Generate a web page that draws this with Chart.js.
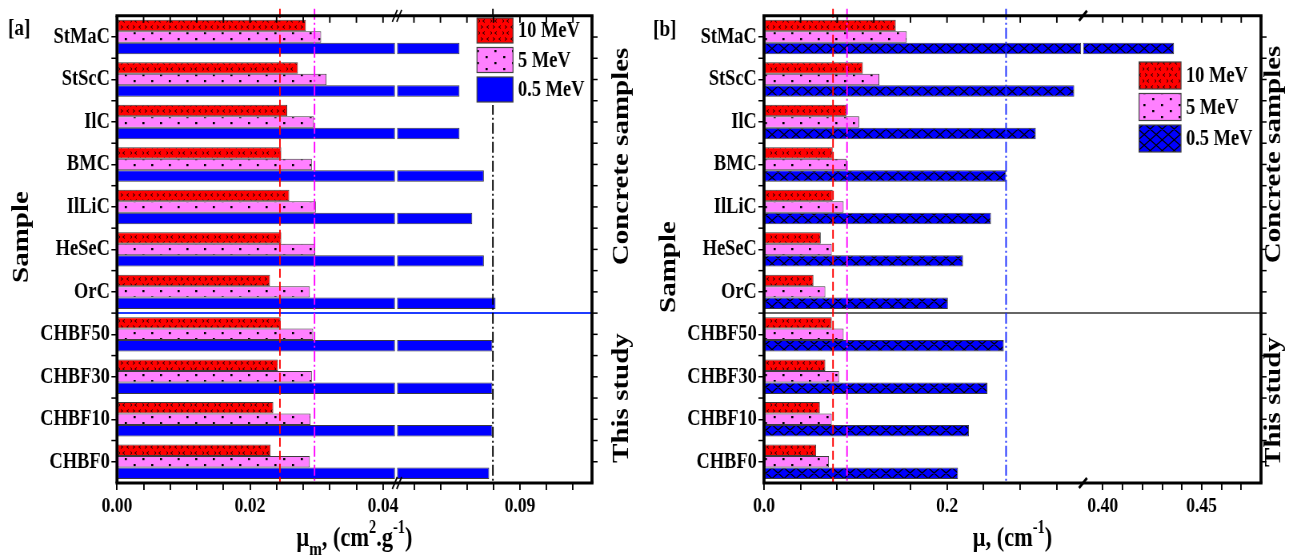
<!DOCTYPE html>
<html><head><meta charset="utf-8">
<script src="https://cdn.jsdelivr.net/npm/chart.js@4.4.1/dist/chart.umd.min.js"></script>
<style>
html,body{margin:0;padding:0;background:#fff;}
#wrap{position:relative;width:1301px;height:557px;overflow:hidden;background:#fff;}
canvas{position:absolute;top:0;}
</style></head><body>
<div id="wrap">
<canvas id="ca" width="800" height="557" style="left:0px;width:640px;height:557px"></canvas>
<canvas id="cb" width="826" height="557" style="left:640px;width:661px;height:557px"></canvas>
</div>
<script>
// ---------------- data ----------------
const categories = ['StMaC','StScC','IlC','BMC','IlLiC','HeSeC','OrC','CHBF50','CHBF30','CHBF10','CHBF0'];
const groupNames = ['Concrete samples','This study'];
const groupSizes = [7, 4];
const seriesNames = ['10 MeV','5 MeV','0.5 MeV'];

// [a] mass attenuation coefficient (cm2/g)
const massAtt10MeV = [0.0284,0.0272,0.0256,0.0247,0.0259,0.0247,0.0230,0.0246,0.0242,0.0235,0.0231];
const massAtt5MeV  = [0.0307,0.0315,0.0296,0.0293,0.0299,0.0298,0.0290,0.0295,0.0293,0.0291,0.0290];
const massAtt05MeV = [0.0843,0.0843,0.0843,0.0866,0.0855,0.0866,0.0877,0.0874,0.0874,0.0874,0.0871];
const massAttGuides = [0.0245,0.0297,0.08745];

// [b] linear attenuation coefficient (cm-1)
const linAtt10MeV = [0.144,0.108,0.090,0.075,0.075,0.062,0.054,0.074,0.067,0.061,0.057];
const linAtt5MeV  = [0.156,0.126,0.104,0.090,0.087,0.074,0.067,0.087,0.082,0.074,0.071];
const linAtt05MeV = [0.436,0.339,0.297,0.2645,0.248,0.2175,0.201,0.262,0.244,0.224,0.212];
const linAttGuides = [0.0754,0.0907,0.2645];

// tick values / labels (two axis segments each, broken axis)
const ticksA1 = [0,0.004,0.008,0.012,0.016,0.02,0.024,0.028,0.032,0.036,0.04];
const labelsA1 = ['0.00','','','','','0.02','','','','','0.04'];
const ticksA2 = [0.08,0.0825,0.085,0.0875,0.09,0.0925,0.095];
const labelsA2 = ['','','','','0.09','',''];
const ticksB1 = [0,0.04,0.08,0.12,0.16,0.2,0.24,0.28,0.32];
const labelsB1 = ['0.0','','','','','0.2','','',''];
const ticksB2 = [0.40,0.41,0.42,0.43,0.44,0.45,0.46,0.47];
const labelsB2 = ['0.40','','','','','0.45','',''];

// ---------------- helpers ----------------
const FONT = '"Liberation Serif","Times New Roman",serif';

function makePattern(kind) {
  const c = document.createElement('canvas');
  let w = 15, h = 12;
  if (kind === 'pink') { w = 22; h = 12; }
  if (kind === 'hatch') { w = 15; h = 43; }
  c.width = w; c.height = h;
  const g = c.getContext('2d');
  if (kind === 'red') {
    g.fillStyle = '#ff0000'; g.fillRect(0,0,w,h);
    g.strokeStyle = '#300000'; g.lineWidth = 1;
    g.beginPath();
    g.moveTo(1,1.5); g.lineTo(3.5,3); g.lineTo(1,4.5);
    g.moveTo(11,1.5); g.lineTo(8.5,3); g.lineTo(11,4.5);
    g.moveTo(6,7.5); g.lineTo(3.5,9); g.lineTo(6,10.5);
    g.moveTo(13,7.5); g.lineTo(15,9); g.lineTo(13,10.5);
    g.stroke();
  } else if (kind === 'pink') {
    g.fillStyle = '#ff80ff'; g.fillRect(0,0,w,h);
    g.fillStyle = '#000';
    g.fillRect(2,2,2.6,2.2); g.fillRect(13,8,2.6,2.2);
  } else if (kind === 'hatch') {
    g.fillStyle = '#0000ff'; g.fillRect(0,0,w,h);
    g.strokeStyle = '#000'; g.lineWidth = 1.3;
    const p = h / 4, off = 5.475;
    g.beginPath();
    for (let k = -2; k <= 5; k++) {
      const y0 = off + k * p;
      g.moveTo(-w, y0 - p); g.lineTo(2 * w, y0 + 2 * p);
      g.moveTo(-w, y0 + 2 * p); g.lineTo(2 * w, y0 - p);
    }
    g.stroke();
  }
  return g.createPattern(c, 'repeat');
}

function line(ctx, a, b, c, d) { ctx.beginPath(); ctx.moveTo(a,b); ctx.lineTo(c,d); ctx.stroke(); }

function drawRich(ctx, parts, cx, baseY) {
  let total = 0;
  parts.forEach(p => { ctx.font = `bold ${p.size}px ${FONT}`; p.w = ctx.measureText(p.t).width; total += p.w; });
  let x = cx - total / 2;
  ctx.textAlign = 'left'; ctx.textBaseline = 'alphabetic';
  parts.forEach(p => { ctx.font = `bold ${p.size}px ${FONT}`; ctx.fillText(p.t, x, baseY + p.dy); x += p.w; });
}

function decoPlugin(P) {
  const K = P.intW / P.cssW;
  return {
    id: 'deco',
    afterDatasetsDraw(chart) {
      const ctx = chart.ctx, ca = chart.chartArea, y = chart.scales.y, x1 = chart.scales.x1, x2 = chart.scales.x2;
      ctx.save();
      let idx = 0;
      for (let g = 0; g < groupSizes.length - 1; g++) {
        idx += groupSizes[g];
        const sy = (y.getPixelForValue(idx - 1) + y.getPixelForValue(idx)) / 2;
        ctx.strokeStyle = P.sepColor; ctx.lineWidth = P.sepWidth;
        line(ctx, ca.left, sy, ca.right, sy);
      }
      P.guides.forEach((v, i) => {
        const sc = v <= x1.max ? x1 : x2;
        const px = sc.getPixelForValue(v);
        ctx.strokeStyle = P.guideColors[i]; ctx.lineWidth = 1.5 * K;
        ctx.setLineDash(P.guideDash[i]);
        line(ctx, px, ca.top - 7, px, ca.bottom);
      });
      ctx.restore();
    },
    afterDraw(chart) {
      const ctx = chart.ctx, ca = chart.chartArea, y = chart.scales.y, x1 = chart.scales.x1, x2 = chart.scales.x2;
      ctx.save();
      ctx.fillStyle = '#000'; ctx.strokeStyle = '#000';
      // legend (inside plot, top right)
      const L = P.legend;
      const items = chart.data.datasets.filter(d => !d.hideInLegend);
      ctx.font = `bold 23px ${FONT}`;
      let maxW = 0; items.forEach(d => { maxW = Math.max(maxW, ctx.measureText(d.label).width); });
      ctx.fillStyle = '#fff';
      ctx.fillRect(L.x * K - 3, L.y - 3, (L.tx - L.x) * K + maxW + 6, L.gap * (items.length - 1) + L.h + 6);
      items.forEach((d, i) => {
        const by = L.y + i * L.gap;
        ctx.fillStyle = d.backgroundColor;
        ctx.fillRect(L.x * K, by, L.w * K, L.h);
        ctx.strokeStyle = '#444'; ctx.lineWidth = 1.2;
        ctx.strokeRect(L.x * K, by, L.w * K, L.h);
        ctx.fillStyle = '#000'; ctx.textAlign = 'left'; ctx.textBaseline = 'middle';
        ctx.fillText(d.label, L.tx * K, by + L.h / 2 + 1);
      });
      // frame
      ctx.strokeStyle = '#000';
      ctx.lineWidth = 3;
      line(ctx, ca.left - 1.5 * K, ca.top, ca.right + 1.5 * K, ca.top);
      line(ctx, ca.left - 1.5 * K, ca.bottom, ca.right + 1.5 * K, ca.bottom);
      ctx.lineWidth = 3 * K;
      line(ctx, ca.left, ca.top, ca.left, ca.bottom);
      line(ctx, ca.right, ca.top, ca.right, ca.bottom);
      // top (inward) ticks
      ctx.lineWidth = 1.5 * K;
      [x1, x2].forEach(s => s.ticks.forEach(t => { const px = s.getPixelForValue(t.value); line(ctx, px, ca.top, px, ca.top + 7); }));
      // right ticks (centres & boundaries), left boundary ticks
      ctx.lineWidth = 1.5;
      const n = categories.length;
      for (let i = 0; i < n; i++) {
        const yc = y.getPixelForValue(i);
        line(ctx, ca.right, yc, ca.right + 7, yc);
        if (i < n - 1) {
          const yb = (yc + y.getPixelForValue(i + 1)) / 2;
          line(ctx, ca.right, yb, ca.right + 7, yb);
          line(ctx, ca.left - 7, yb, ca.left, yb);
        }
      }
      // axis break marks
      const bx = x1.right;
      [ca.top, ca.bottom].forEach(yy => {
        if (P.breakStyle === 'double') {
          ctx.lineWidth = 1.4 * K;
          [-2.2, 2.2].forEach(dx => line(ctx, bx + (dx - 2.5) * K, yy + 6, bx + (dx + 2.5) * K, yy - 6));
        } else {
          ctx.lineWidth = 3;
          line(ctx, bx - 4 * K, yy + 5, bx + 4 * K, yy - 5);
        }
      });
      // texts
      ctx.fillStyle = '#000';
      ctx.font = `bold 24px ${FONT}`; ctx.textAlign = 'left'; ctx.textBaseline = 'alphabetic';
      ctx.fillText(P.tag, P.tagX * K, P.tagY);
      ctx.font = `bold 29px ${FONT}`; ctx.textAlign = 'center'; ctx.textBaseline = 'middle';
      ctx.save(); ctx.translate(P.sampleX * K, P.sampleY); ctx.rotate(-Math.PI / 2); ctx.fillText('Sample', 0, 0); ctx.restore();
      let start = 0;
      groupSizes.forEach((gs, g) => {
        const yt = start === 0 ? ca.top : (y.getPixelForValue(start - 1) + y.getPixelForValue(start)) / 2;
        const end = start + gs;
        const yb = end >= n ? ca.bottom : (y.getPixelForValue(end - 1) + y.getPixelForValue(end)) / 2;
        ctx.save(); ctx.translate(P.sideX * K, (yt + yb) / 2 + P.sideDy[g]); ctx.rotate(-Math.PI / 2);
        ctx.fillText(groupNames[g], 0, 0); ctx.restore();
        start = end;
      });
      ctx.fillStyle = '#000';
      drawRich(ctx, P.xTitle, (ca.left + ca.right) / 2, P.xTitleY);
      ctx.restore();
    }
  };
}

function makePanel(P) {
  const K = P.intW / P.cssW;
  const tickFont = {family: FONT, size: 22, weight: 'bold'};
  const barCommon = {borderColor: '#3c3c3c', borderWidth: 1, borderSkipped: false, categoryPercentage: 0.81, barPercentage: 1.0};
  const red = makePattern('red'), pink = makePattern('pink');
  const blue = P.hatch ? makePattern('hatch') : '#0000ff';
  const xCommon = (ticks, labels, weight) => ({
    type: 'linear', position: 'bottom', stack: 'xs', stackWeight: weight, stacked: false,
    afterBuildTicks: s => { s.ticks = ticks.map(v => ({value: v})); },
    ticks: {autoSkip: false, maxRotation: 0, minRotation: 0, padding: 3, color: '#000', font: tickFont,
            callback: (v, i) => labels[i]},
    grid: {display: true, drawOnChartArea: false, drawTicks: true, tickLength: 7, color: '#000', lineWidth: 1.5 * K},
    border: {display: false},
    afterFit: s => { s.height = 557 - P.bottom; }
  });
  const x1 = Object.assign(xCommon(P.t1, P.l1, P.brk - P.left), {min: 0, max: P.x1Max});
  const x2 = Object.assign(xCommon(P.t2, P.l2, P.right - P.brk), {min: P.x2Min, max: P.x2Max, beginAtZero: false});
  new Chart(document.getElementById(P.id), {
    type: 'bar',
    data: {
      labels: categories,
      datasets: [
        Object.assign({label: seriesNames[0], data: P.v10, backgroundColor: red, xAxisID: 'x1', stack: 's10'}, barCommon),
        Object.assign({label: seriesNames[1], data: P.v5, backgroundColor: pink, xAxisID: 'x1', stack: 's5'}, barCommon),
        Object.assign({label: seriesNames[2], data: P.v05.map(v => Math.min(v, P.barCap)), backgroundColor: blue, xAxisID: 'x1', stack: 's05'}, barCommon),
        Object.assign({label: seriesNames[2] + ' ', hideInLegend: true, data: P.v05.map(v => v > P.x2Min ? [P.x2Min, v] : null), backgroundColor: blue, xAxisID: 'x2', stack: 's05'}, barCommon)
      ]
    },
    options: {
      indexAxis: 'y', responsive: false, animation: false, devicePixelRatio: 1,
      events: [],
      layout: {padding: {left: 0, top: P.top, right: P.intW - P.right * K, bottom: 0}},
      plugins: {legend: {display: false}, tooltip: {enabled: false}, title: {display: false}},
      scales: {
        y: {
          type: 'category', stacked: true, offset: true,
          ticks: {color: '#000', font: {family: FONT, size: 23, weight: 'bold'}, padding: 2},
          grid: {display: true, drawOnChartArea: false, drawTicks: true, tickLength: 7, offset: false, color: '#000', lineWidth: 1.5},
          border: {display: false},
          afterFit: s => { s.width = P.left * K; }
        },
        x1: x1, x2: x2
      }
    },
    plugins: [decoPlugin(P)]
  });
}

makePanel({
  id: 'ca', cssW: 640, intW: 800, left: 117, brk: 397, right: 592, top: 10, bottom: 483,
  x1Max: 0.0421, barCap: 0.0418, x2Min: 0.0784, x2Max: 0.0968,
  t1: ticksA1, l1: labelsA1, t2: ticksA2, l2: labelsA2,
  v10: massAtt10MeV, v5: massAtt5MeV, v05: massAtt05MeV, hatch: false,
  guides: massAttGuides, guideColors: ['#ff0000','#ff00ff','#000000'],
  guideDash: [[9,4],[11,3,2,3],[11,3,2,3]],
  sepColor: '#1f3cff', sepWidth: 2, breakStyle: 'double',
  legend: {x: 477, y: 18, w: 36, h: 25, gap: 29.5, tx: 518},
  tag: '[a]', tagX: 8, tagY: 35, sampleX: 22, sampleY: 237, sideX: 622, sideDy: [-8, 0],
  xTitle: [{t:'\u03bc', size: 28, dy: 0}, {t:'m', size: 19, dy: 9}, {t:', (cm', size: 28, dy: 0}, {t:'2', size: 18, dy: -13},
           {t:'.g', size: 28, dy: 0}, {t:'-1', size: 18, dy: -13}, {t:')', size: 28, dy: 0}],
  xTitleY: 546
});

makePanel({
  id: 'cb', cssW: 661, intW: 826, left: 124, brk: 443, right: 621, top: 10, bottom: 483,
  x1Max: 0.3486, barCap: 0.3465, x2Min: 0.39, x2Max: 0.48,
  t1: ticksB1, l1: labelsB1, t2: ticksB2, l2: labelsB2,
  v10: linAtt10MeV, v5: linAtt5MeV, v05: linAtt05MeV, hatch: true,
  guides: linAttGuides, guideColors: ['#ff0000','#ff00ff','#1a2cff'],
  guideDash: [[9,4],[11,3,2,3],[11,3,2,3]],
  sepColor: '#333333', sepWidth: 1.5, breakStyle: 'single',
  legend: {x: 499, y: 62, w: 42, h: 27, gap: 31.5, tx: 546},
  tag: '[b]', tagX: 13, tagY: 36, sampleX: 29, sampleY: 267, sideX: 634, sideDy: [-10, 4],
  xTitle: [{t:'\u03bc, (cm', size: 28, dy: 0}, {t:'-1', size: 18, dy: -13}, {t:')', size: 28, dy: 0}],
  xTitleY: 546
});
</script>
</body></html>
